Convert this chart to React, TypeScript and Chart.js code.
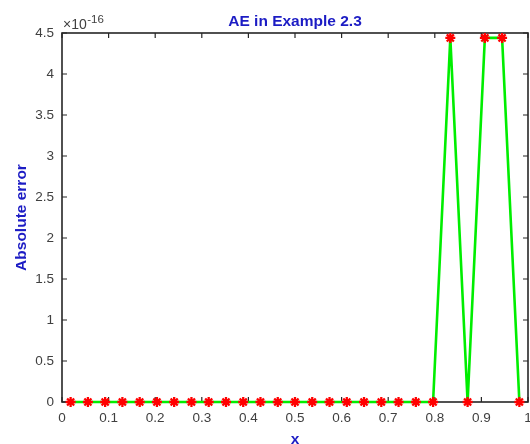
import React, { useEffect, useRef } from "react";
import { Chart, registerables } from "chart.js";

Chart.register(...registerables);

const xValues = [
  0.0185, 0.0556, 0.0926, 0.1296, 0.1667, 0.2037, 0.2407, 0.2778, 0.3148,
  0.3519, 0.3889, 0.4259, 0.463, 0.5, 0.537, 0.5741, 0.6111, 0.6481, 0.6852,
  0.7222, 0.7593, 0.7963, 0.8333, 0.8704, 0.9074, 0.9444, 0.9815,
];
const absErrors = [
  0, 0, 0, 0, 0, 0, 0, 0, 0, 0, 0, 0, 0, 0, 0, 0, 0, 0, 0, 0, 0, 0,
  4.44e-16, 0, 4.44e-16, 4.44e-16, 0,
];
const titleText = "AE in Example 2.3";
const xLabel = "x";
const yLabel = "Absolute error";
const exponentBase = "\u00d710";
const exponentPower = "-16";

const FONT = "'Liberation Sans', Arial, sans-serif";
const BLUE = "#1c1cc4";
const AXIS = "#262626";
const TICKTXT = "#404040";

const boxPlugin = {
  id: "matlabBox",
  beforeDatasetsDraw(chart: any) {
    const { ctx, chartArea } = chart;
    const { left, right, top, bottom } = chartArea;
    const xs = chart.scales.x;
    const ys = chart.scales.y;
    ctx.save();
    ctx.strokeStyle = AXIS;
    ctx.lineWidth = 1.6;
    ctx.strokeRect(left, top, right - left, bottom - top);
    ctx.lineWidth = 1.2;
    const tl = 5;
    ctx.beginPath();
    xs.ticks.forEach((t: any) => {
      const px = xs.getPixelForValue(t.value);
      ctx.moveTo(px, bottom);
      ctx.lineTo(px, bottom - tl);
      ctx.moveTo(px, top);
      ctx.lineTo(px, top + tl);
    });
    ys.ticks.forEach((t: any) => {
      const py = ys.getPixelForValue(t.value);
      ctx.moveTo(left, py);
      ctx.lineTo(left + tl, py);
      ctx.moveTo(right, py);
      ctx.lineTo(right - tl, py);
    });
    ctx.stroke();
    ctx.restore();
  },
  afterDraw(chart: any) {
    const { ctx, chartArea } = chart;
    ctx.save();
    ctx.fillStyle = TICKTXT;
    ctx.textBaseline = "alphabetic";
    ctx.textAlign = "left";
    ctx.font = `14px ${FONT}`;
    const x0 = chartArea.left + 1;
    ctx.fillText(exponentBase, x0, 29);
    const w = ctx.measureText(exponentBase).width;
    ctx.font = `11.5px ${FONT}`;
    ctx.fillText(exponentPower, x0 + w + 0.5, 23);
    ctx.restore();
  },
};

export default function App() {
  const ref = useRef<HTMLCanvasElement | null>(null);
  useEffect(() => {
    if (!ref.current) return;
    const data = xValues.map((x, i) => ({ x, y: absErrors[i] }));
    const chart = new Chart(ref.current, {
      type: "line",
      data: {
        datasets: [
          {
            data,
            borderColor: "#00ee00",
            borderWidth: 2.6,
            backgroundColor: "#ff0000",
            pointStyle: "star",
            pointRadius: 5,
            pointBorderColor: "#ff0000",
            pointBorderWidth: 2.3,
            pointBackgroundColor: "#ff0000",
            tension: 0,
            clip: false as any,
          },
        ],
      },
      options: {
        responsive: false,
        animation: false,
        layout: {
          autoPadding: false,
          padding: { left: 0, right: 2, top: 0, bottom: 0 },
        },
        plugins: {
          legend: { display: false },
          tooltip: { enabled: false },
          title: {
            display: true,
            text: titleText,
            fullSize: false,
            color: BLUE,
            font: { family: FONT, size: 15.5, weight: "bold", lineHeight: 1.2 },
            padding: { top: 12.7, bottom: 1.7 },
          },
        },
        scales: {
          x: {
            type: "linear",
            min: 0,
            max: 1,
            ticks: {
              stepSize: 0.1,
              color: TICKTXT,
              font: { family: FONT, size: 13.5 },
              padding: 8,
              maxRotation: 0,
              callback: (v: any) => String(Number(Number(v).toFixed(1))),
            },
            grid: { display: false, drawTicks: false },
            border: { display: false },
            title: {
              display: true,
              text: xLabel,
              color: BLUE,
              font: { family: FONT, size: 15.5, weight: "bold", lineHeight: 0.6 },
              padding: { top: 0, bottom: 0 },
            },
            afterFit: (s: any) => {
              s.height = 42;
              s.paddingLeft = 0;
              s.paddingRight = 0;
            },
          },
          y: {
            type: "linear",
            min: 0,
            max: 4.5e-16,
            ticks: {
              stepSize: 0.5e-16,
              color: TICKTXT,
              font: { family: FONT, size: 13.5 },
              padding: 8,
              callback: (v: any) =>
                String(Number((Number(v) / 1e-16).toFixed(1))),
            },
            grid: { display: false, drawTicks: false },
            border: { display: false },
            title: {
              display: true,
              text: yLabel,
              color: BLUE,
              font: { family: FONT, size: 15.5, weight: "bold", lineHeight: 1.2 },
              padding: { top: 12, bottom: 12 },
            },
            afterFit: (s: any) => {
              s.width = 62;
            },
          },
        },
      },
      plugins: [boxPlugin],
    });
    return () => chart.destroy();
  }, []);
  return (
    <div
      style={{
        position: "fixed",
        left: 0,
        top: 0,
        width: 530,
        height: 444,
        background: "#ffffff",
      }}
    >
      <canvas ref={ref} width={530} height={444} style={{ display: "block" }} />
    </div>
  );
}
